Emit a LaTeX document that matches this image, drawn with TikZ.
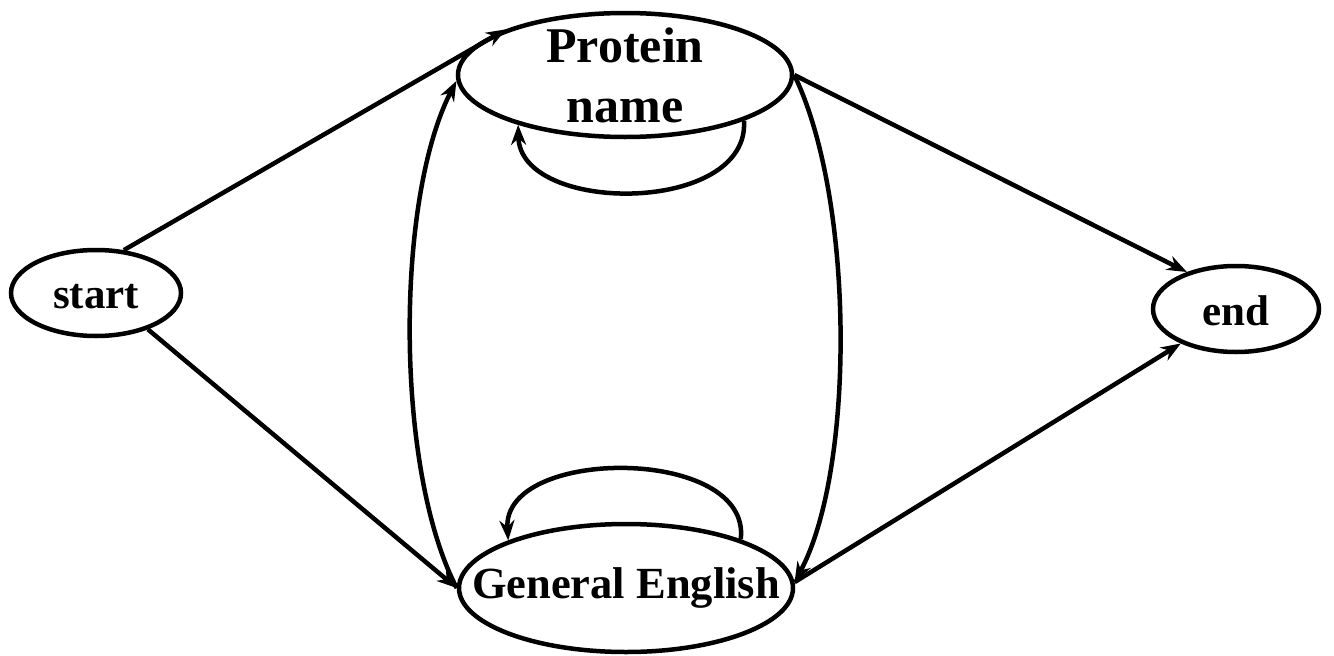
\documentclass[tikz,border=0pt]{standalone}
\usepackage{fontspec}
\setmainfont{Liberation Serif}
\usetikzlibrary{shapes.geometric,arrows.meta}
\tikzset{
  state/.style={ellipse, draw, line width=4.5pt, inner sep=0pt},
  lbl/.style={font=\bfseries, align=center},
  link/.style={line width=4.5pt, -{Stealth[length=20pt,width=15pt]}},
}
\begin{document}
\begin{tikzpicture}[x=1pt,y=-1pt]
  \useasboundingbox (0,0) rectangle (1334,656);
  % states: outlines with their labels set at the centre
  \node[state, minimum width=170pt, minimum height=86pt,
    label={[lbl, font=\fontsize{43}{52}\selectfont\bfseries, yshift=-4pt]center:start}] (start) at (96,293) {};
  \node[state, minimum width=166pt, minimum height=86pt,
    label={[lbl, font=\fontsize{43}{52}\selectfont\bfseries, yshift=-2pt]center:end}] (end) at (1236,309) {};
  \node[state, minimum width=334pt, minimum height=124pt,
    label={[lbl, font=\fontsize{50}{60}\selectfont\bfseries]center:Protein\\name}] (prot) at (625,75) {};
  \node[state, minimum width=334pt, minimum height=128pt,
    label={[lbl, font=\fontsize{44.5}{52}\selectfont\bfseries]center:General English}] (gen) at (626,588) {};
  % transitions out of start
  \draw[link] (start.57) -- (prot.159);
  \draw[link] (start.-35) -- (gen.180);
  % transitions into end
  \draw[link] (prot.0) -- (end.143);
  \draw[link] (gen.2) -- (end.212);
  % between the two states
  \draw[link] (gen.180) .. controls (395,470) and (395,200) .. (prot.182);
  \draw[link] (prot.0) .. controls (855,200) and (855,470) .. (gen.2);
  % self-loops
  \draw[link] (prot.-21) .. controls (750,215) and (520,215) .. (prot.205);
  \draw[link] (gen.23) .. controls (752,446) and (502,446) .. (gen.158);
\end{tikzpicture}
\end{document}
